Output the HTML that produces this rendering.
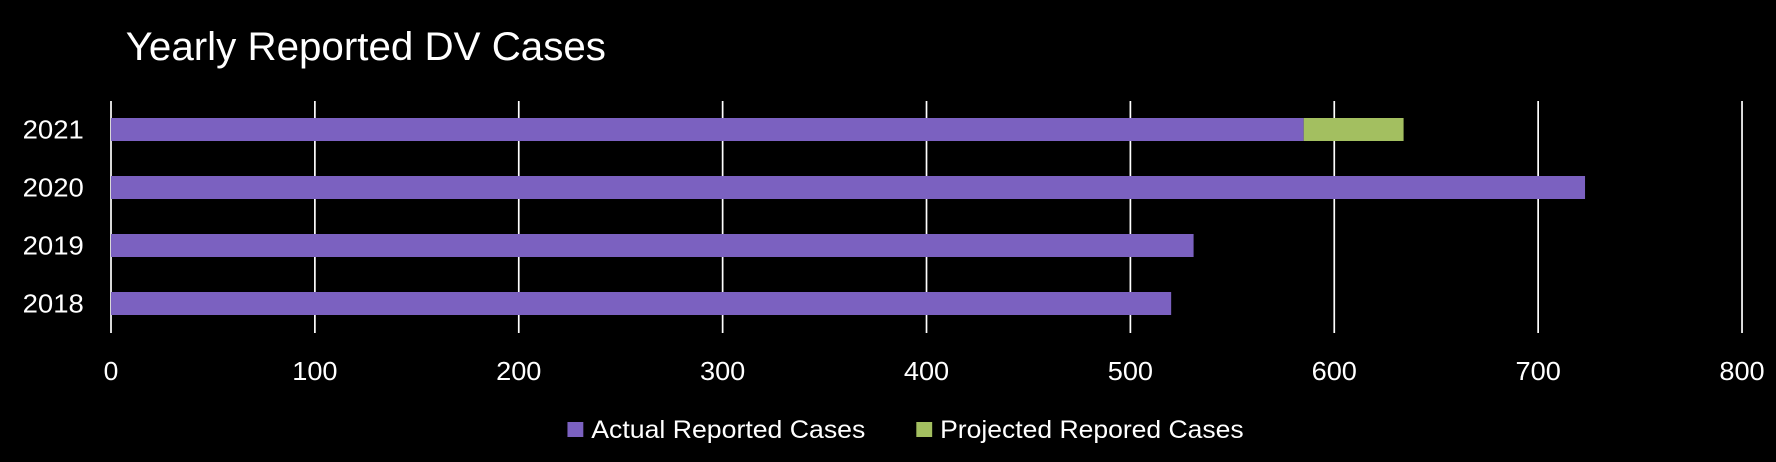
<!DOCTYPE html>
<html><head><meta charset="utf-8"><style>
html,body{margin:0;padding:0;background:#000;overflow:hidden}
svg{display:block}
text{font-family:"Liberation Sans",sans-serif;fill:#fff}
</style></head><body>
<svg id="chart" width="1776" height="462" viewBox="0 0 1568 462" preserveAspectRatio="none" xmlns="http://www.w3.org/2000/svg">
<rect width="1568" height="462" fill="#000"/>
<text x="111" y="60" font-size="40" textLength="424" lengthAdjust="spacingAndGlyphs">Yearly Reported DV Cases</text>
<g id="grid"></g><g id="bars"></g><g id="labels"></g>
<g>
<rect x="501" y="422" width="14" height="15" fill="#7B61C0"/>
<text x="522" y="438" font-size="25" textLength="242" lengthAdjust="spacingAndGlyphs">Actual Reported Cases</text>
<rect x="809" y="422" width="14" height="15" fill="#A3BF60"/>
<text x="830" y="438" font-size="25" textLength="268" lengthAdjust="spacingAndGlyphs">Projected Repored Cases</text>
</g>
</svg>
<script>
const categories=["2021","2020","2019","2018"];
const actual=[585,723,531,520];
const projected=[49,0,0,0];
const ticks=[0,100,200,300,400,500,600,700,800];
const NS="http://www.w3.org/2000/svg";
const x0=98,x1=1538,xMax=800;
const xs=v=>x0+(x1-x0)*v/xMax;
const yTop=101,band=58;
const yc=i=>yTop+band*i+28.5;
function mk(tag,attrs,parent,txt){const e=document.createElementNS(NS,tag);for(const k in attrs)e.setAttribute(k,attrs[k]);if(txt!==undefined)e.textContent=txt;parent.appendChild(e);return e;}
const grid=document.getElementById('grid'),bars=document.getElementById('bars'),labels=document.getElementById('labels');
ticks.forEach(t=>{
 const l=mk('line',{x1:xs(t),x2:xs(t),y1:101,y2:333,stroke:'#fff','stroke-width':1.5},grid);
 
 
 const tx=mk('text',{x:xs(t),y:380,'font-size':26,'text-anchor':'middle',textLength:String(t).length*13+(t?1:0),lengthAdjust:'spacingAndGlyphs'},labels,String(t));
 
 
});
categories.forEach((c,i)=>{
 const y=yc(i)-11.5;
 const b=mk('rect',{x:xs(0),y:y,width:xs(actual[i])-xs(0),height:23,fill:'#7B61C0'},bars);
 
 
 if(projected[i]>0){
  const p=mk('rect',{x:xs(actual[i]),y:y,width:xs(actual[i]+projected[i])-xs(actual[i]),height:23,fill:'#A3BF60'},bars);
  
  
 }
 const t=mk('text',{x:74,y:yc(i)+9,'font-size':26,'text-anchor':'end',textLength:54,lengthAdjust:'spacingAndGlyphs'},labels,c);
 
 
});
</script>
</body></html>
